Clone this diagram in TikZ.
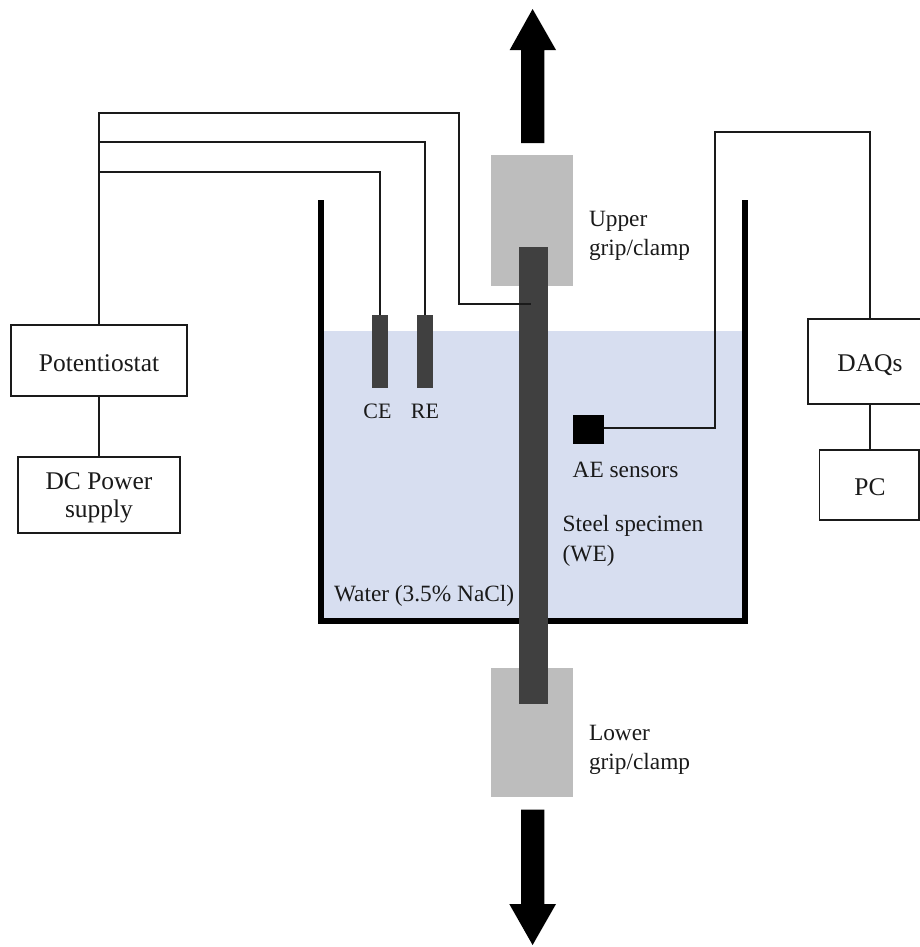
\documentclass[tikz,border=0pt]{standalone}
\usepackage{fontspec}
\setmainfont{Liberation Serif}
\definecolor{waterblue}{HTML}{D7DEF0}
\definecolor{gripgrey}{HTML}{BDBDBD}
\definecolor{steelgrey}{HTML}{404040}
\definecolor{inkblack}{HTML}{1A1A1A}
\tikzset{
  x=0.75pt,y=-0.75pt,
  wire/.style={draw=inkblack,line width=1.3pt,line join=miter},
  boxnode/.style={draw=inkblack,line width=1.3pt,fill=white,inner sep=0pt,outer sep=0pt,font=\fontsize{19.1}{23}\selectfont,text=inkblack,align=center},
  block/.style={inner sep=0pt,outer sep=0pt},
  lab/.style={inner sep=0pt,outer sep=0pt,anchor=base west,text=inkblack,font=\fontsize{17.5}{21}\selectfont},
  smalllab/.style={inner sep=0pt,outer sep=0pt,anchor=base,text=inkblack,font=\fontsize{16.5}{20}\selectfont},
  wall/.style={fill=black,draw=none},
  force/.style={fill=black,draw=none},
}
\begin{document}
\begin{tikzpicture}
\useasboundingbox (0,0) rectangle (920,947);
\clip (0,0) rectangle (920,947);
\fill[white] (0,0) rectangle (920,947);
% water and tank
\fill[waterblue] (323,331) rectangle (742,618);
\fill[wall] (317.5,200) rectangle (323.5,624);
\fill[wall] (742,200) rectangle (747.5,624);
\fill[wall] (317.5,618) rectangle (747.5,624);
% grips
\node[block,fill=gripgrey,minimum width=61.9pt,minimum height=97.9pt] (upper) at (532,220.5) {};
\node[block,fill=gripgrey,minimum width=61.9pt,minimum height=97.1pt] (lower) at (532,732.5) {};
% electrodes, specimen, sensor
\node[block,fill=steelgrey,minimum width=12pt,minimum height=54.75pt] (ce) at (380,351.5) {};
\node[block,fill=steelgrey,minimum width=11.6pt,minimum height=54.75pt] (re) at (425,351.5) {};
\node[block,fill=steelgrey,minimum width=21.5pt,minimum height=342.75pt] (we) at (533.3,475.5) {};
\node[block,fill=black,minimum width=23.25pt,minimum height=21.75pt] (ae) at (588.5,429.3) {};
% boxes
\node[boxnode,minimum width=132.4pt,minimum height=53.25pt] (pot) at (99,360.5) {};
\node[boxnode,minimum width=121.5pt,minimum height=57pt] (dc) at (99,495) {};
\node[boxnode,minimum width=93pt,minimum height=63.75pt] (daq) at (870,361.5) {};
\node[boxnode,minimum width=74.6pt,minimum height=52.9pt] (pc) at (869.2,485) {};
% box texts
\node[boxnode,draw=none,fill=none,anchor=base] (pottext) at (99,371) {Potentiostat};
\node[boxnode,draw=none,fill=none,anchor=base] (dctext1) at (99,489) {DC Power};
\node[boxnode,draw=none,fill=none,anchor=base] (dctext2) at (99,517) {supply};
\node[boxnode,draw=none,fill=none,anchor=base] (daqtext) at (870,371) {DAQs};
\node[boxnode,draw=none,fill=none,anchor=base] (pctext) at (870,495) {PC};
% wires
\coordinate (topleft) at (99,113);
\coordinate (topright) at (459,113);
\coordinate (weturn) at (459,304);
\coordinate (weend) at (531,304);
\coordinate (returnturn) at (425,142);
\coordinate (ceturn) at (380,172);
\coordinate (aeturn) at (714.7,428);
\coordinate (aetop) at (714.7,132);
\coordinate (daqturn) at (870,132);
\draw[wire] (pot.north) -- (topleft) -- (topright) -- (weturn) -- (weend);
\draw[wire] (pot.north |- returnturn) -- (returnturn) -- (re.north);
\draw[wire] (pot.north |- ceturn) -- (ceturn) -- (ce.north);
\draw[wire] (pot.south) -- (dc.north);
\draw[wire] (ae.east |- aeturn) -- (aeturn) -- (aetop) -- (daqturn) -- (daq.north);
\draw[wire] (daq.south) -- (daq.south |- pc.north);
% force arrows
\fill[force] (532.6,9) -- (556,50) -- (544.3,50) -- (544.3,143) -- (521,143) -- (521,50) -- (509.7,50) -- cycle;
\fill[force] (532.6,945) -- (556,904) -- (544.3,904) -- (544.3,809.7) -- (521,809.7) -- (521,904) -- (509.3,904) -- cycle;
% labels
\node[smalllab] (celabel) at (377.5,418) {CE};
\node[smalllab] (relabel) at (425,418) {RE};
\node[lab] (upper1) at (589,226) {Upper};
\node[lab] (upper2) at (589,255) {grip/clamp};
\node[lab] (lower1) at (589,740) {Lower};
\node[lab] (lower2) at (589,769) {grip/clamp};
\node[lab] (aelabel) at (572.7,477.7) {AE sensors};
\node[lab] (steel1) at (562.7,531.7) {Steel specimen};
\node[lab] (steel2) at (562.7,561.7) {(WE)};
\node[lab] (water) at (334,601.7) {Water (3.5\% NaCl)};
\end{tikzpicture}
\end{document}
